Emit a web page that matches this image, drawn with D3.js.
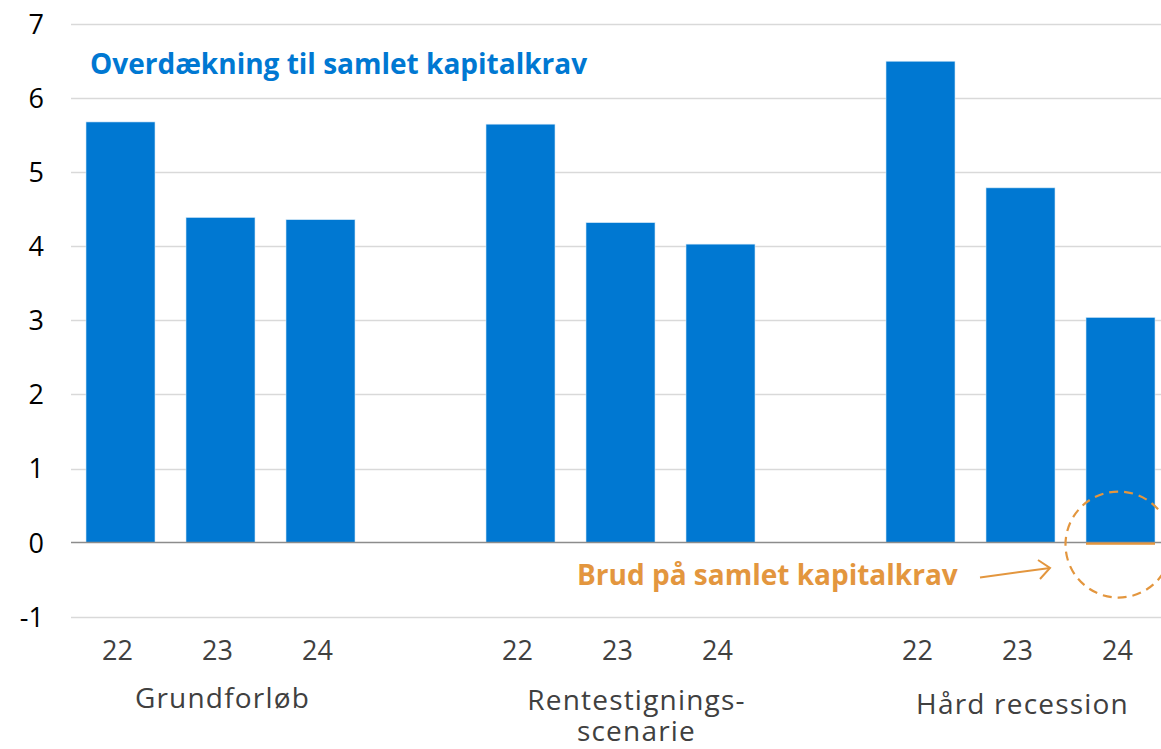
<!DOCTYPE html>
<html>
<head>
<meta charset="utf-8">
<script src="https://cdn.jsdelivr.net/npm/d3@7"></script>
<style>
  html, body { margin: 0; padding: 0; background: #fff; }
  svg { display: block; font-family: "Open Sans", "Noto Sans", sans-serif; }
</style>
</head>
<body>
<svg id="chart" width="1161" height="749"></svg>
<script>
// ---- data ----
const groups = ["Grundforløb", "Rentestignings-\nscenarie", "Hård recession"];
const years = ["22", "23", "24"];
const overdaekning = [
  [5.68, 4.39, 4.36],
  [5.65, 4.32, 4.03],
  [6.50, 4.79, 3.04]
];
const brud = [
  [0, 0, 0],
  [0, 0, 0],
  [0, 0, -0.03]
];
const yTicks = [-1, 0, 1, 2, 3, 4, 5, 6, 7];
const titleText = "Overdækning til samlet kapitalkrav";
const annotationText = "Brud på samlet kapitalkrav";

// ---- build slots ----
const slots = [];
groups.forEach((g, gi) => {
  years.forEach((y, yi) => slots.push({ key: gi + "-" + y, group: gi, year: y, value: overdaekning[gi][yi], brud: brud[gi][yi] }));
  if (gi < groups.length - 1) slots.push({ key: "gap" + gi, gap: true });
});

const svg = d3.select("#chart");
const blue = "#0078D2";
const orange = "#E3963E";
const labelFont = "'Open Sans', 'Noto Sans', sans-serif";

const x = d3.scaleBand()
  .domain(slots.map(d => d.key))
  .range([70.5, 1170.5])
  .paddingInner(0.31)
  .paddingOuter(0.155);

const y = d3.scaleLinear().domain([-1, 7]).range([616.6, 24.2]);

// gridlines
svg.append("g").selectAll("line")
  .data(yTicks.filter(t => t !== 0))
  .join("line")
  .attr("x1", 71).attr("x2", 1161)
  .attr("y1", d => Math.round(y(d)) + 0.5).attr("y2", d => Math.round(y(d)) + 0.5)
  .attr("stroke", "#d9d9d9").attr("stroke-width", 1.3);

// y axis labels
const yAxis = d3.axisLeft(y).tickValues(yTicks).tickSize(0).tickPadding(0).tickFormat(d => String(d));
const yg = svg.append("g").attr("transform", "translate(44,0)").call(yAxis);
yg.select(".domain").remove();
yg.selectAll("text")
  .attr("font-size", 27).attr("fill", "#000")
  .attr("font-family", labelFont)
  .attr("dy", "0.35em");

const data = slots.filter(d => !d.gap);

// bars
svg.append("g").selectAll("rect")
  .data(data)
  .join("rect")
  .attr("x", d => x(d.key))
  .attr("width", x.bandwidth())
  .attr("y", d => y(Math.max(0, d.value)))
  .attr("height", d => Math.abs(y(d.value) - y(0)))
  .attr("fill", blue)
  .attr("stroke", "#cfe6f7").attr("stroke-width", 0.6);

// zero line
svg.append("line")
  .attr("x1", 71).attr("x2", 1161)
  .attr("y1", y(0)).attr("y2", y(0))
  .attr("stroke", "#8c8c8c").attr("stroke-width", 1.6);

// breach bars
svg.append("g").selectAll("rect")
  .data(data.filter(d => d.brud !== 0))
  .join("rect")
  .attr("x", d => x(d.key))
  .attr("width", x.bandwidth())
  .attr("y", d => y(Math.max(0, d.brud)))
  .attr("height", d => Math.abs(y(d.brud) - y(0)))
  .attr("fill", orange);

// x tick labels
svg.append("g").selectAll("text")
  .data(data)
  .join("text")
  .attr("x", d => x(d.key) + x.bandwidth() / 2 - 3)
  .attr("y", 660)
  .attr("text-anchor", "middle")
  .attr("font-size", 27)
  .attr("fill", "#404040")
  .text(d => d.year);

// group labels
const groupCenters = groups.map((g, gi) => {
  const ks = data.filter(d => d.group === gi);
  const a = x(ks[0].key), b = x(ks[ks.length - 1].key) + x.bandwidth();
  return (a + b) / 2;
});
const glab = svg.append("g").selectAll("text")
  .data(groups)
  .join("text")
  .attr("text-anchor", "middle")
  .attr("font-size", 28)
  .attr("letter-spacing", 1.2)
  .attr("fill", "#404040");
glab.each(function(g, gi) {
  const lines = g.split("\n");
  const t = d3.select(this);
  const cx = groupCenters[gi] + (lines.length > 1 ? 16 : 2);
  const base = lines.length > 1 ? 710 : (gi === 0 ? 708 : 714);
  lines.forEach((ln, li) => {
    t.append("tspan").attr("x", cx).attr("y", base + li * 31).text(ln);
  });
});

// title
svg.append("text")
  .attr("x", 90).attr("y", 74)
  .attr("font-size", 28).attr("font-weight", 700)
  .attr("fill", blue)
  .text(titleText);

// annotation text
svg.append("text")
  .attr("x", 577).attr("y", 585)
  .attr("font-size", 28).attr("font-weight", 700)
  .attr("fill", orange)
  .text(annotationText);

// arrow
const target = data[data.length - 1];
const cx = x(target.key) + x.bandwidth() / 2;
const cy = y(0) + 2;
svg.append("line")
  .attr("x1", 980).attr("y1", 577.5).attr("x2", 1050).attr("y2", 568)
  .attr("stroke", orange).attr("stroke-width", 2);
svg.append("path")
  .attr("d", "M1038,560 L1050,568 L1040,579")
  .attr("fill", "none").attr("stroke", orange).attr("stroke-width", 2);

// dashed circle
svg.append("circle")
  .attr("cx", cx - 2).attr("cy", cy)
  .attr("r", 53)
  .attr("fill", "none")
  .attr("stroke", orange).attr("stroke-width", 2.2)
  .attr("stroke-dasharray", "9,6");
</script>
</body>
</html>
